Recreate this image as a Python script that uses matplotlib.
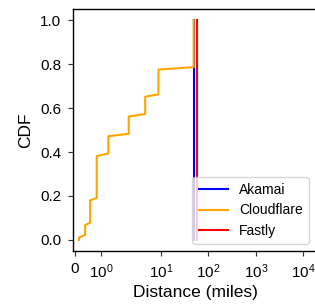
import numpy as np
import matplotlib
matplotlib.use("Agg")
import matplotlib.pyplot as plt

plt.rcParams["font.family"] = ["Liberation Sans", "DejaVu Sans"]
plt.rcParams["mathtext.fontset"] = "custom"
plt.rcParams["mathtext.rm"] = "Liberation Sans"
plt.rcParams["mathtext.it"] = "Liberation Sans:italic"

# ── Data: distinct distances (miles) and how many samples sit at each ────────
cloudflare_dist  = [0.16, 0.39, 0.58, 0.83, 1.27, 2.11, 4.68, 8.9, 49.0]
cloudflare_count = [2, 5, 10, 18, 8, 8, 8, 11, 20]
akamai_dist  = [49.0]
akamai_count = [20]
fastly_dist  = [59.0]
fastly_count = [20]

tick_vals   = [0, 1, 10, 100, 1000, 10000]
tick_labels = ["0", r"$\mathdefault{10^0}$", r"$\mathdefault{10^1}$",
               r"$\mathdefault{10^2}$", r"$\mathdefault{10^3}$",
               r"$\mathdefault{10^4}$"]


def ecdf(dist, count):
    x = np.sort(np.repeat(dist, count))
    y = np.arange(len(x)) / (len(x) - 1)
    return x, y


fig = plt.figure(figsize=(3.15, 3.06), dpi=100)
ax = fig.add_axes([0.2308, 0.1807, 0.778, 0.7899])

for label, d, c, color in [("Akamai", akamai_dist, akamai_count, "blue"),
                           ("Cloudflare", cloudflare_dist, cloudflare_count, "orange"),
                           ("Fastly", fastly_dist, fastly_count, "red")]:
    x, y = ecdf(d, c)
    ax.plot(x, y, color=color, lw=1.5, label=label)

ax.set_xscale("symlog", linthresh=2, linscale=1)
ax.set_xlim(-0.08, 2e4)
ax.set_ylim(-0.049, 1.051)
ax.set_xticks(tick_vals)
ax.set_xticklabels(tick_labels)
ax.xaxis.set_minor_locator(matplotlib.ticker.NullLocator())
ax.set_yticks([0, 0.2, 0.4, 0.6, 0.8, 1.0])
ax.tick_params(labelsize=11, length=3.6, width=0.8, pad=4.5, color="#333333")
ax.set_xlabel("Distance (miles)", fontsize=12.5, labelpad=3)
ax.set_ylabel("CDF", fontsize=12.5, labelpad=5)
for s in ax.spines.values():
    s.set_linewidth(1.0)

ax.legend(loc="lower right", bbox_to_anchor=(309 / 315, 62 / 306),
          bbox_transform=fig.transFigure, borderaxespad=0, fontsize=10,
          handlelength=2.1, labelspacing=0.45, borderpad=0.45)

fig.savefig("out.png", dpi=100)
